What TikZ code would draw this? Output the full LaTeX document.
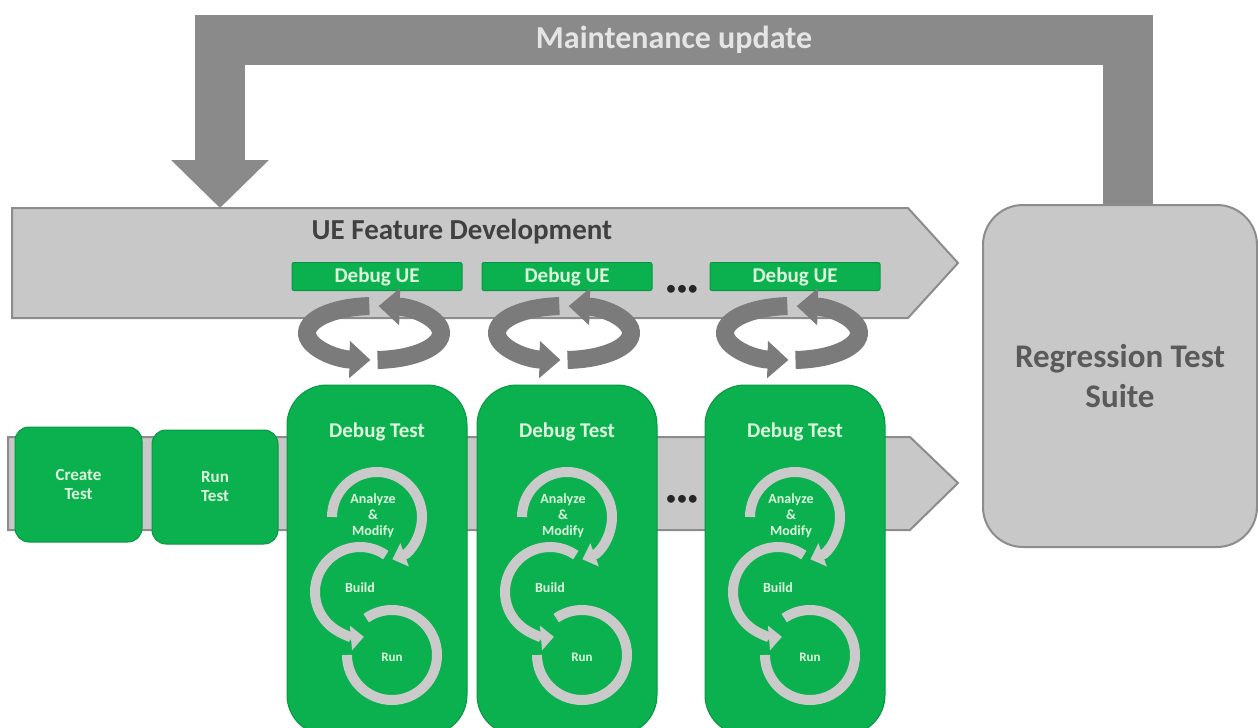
\documentclass[tikz,border=0pt]{standalone}
\usepackage{fontspec}
\setmainfont{Carlito}
\usetikzlibrary{arrows.meta}
\definecolor{msgreen}{HTML}{0BB04F}
\definecolor{paletext}{HTML}{DDF7DD}
\definecolor{bandgray}{HTML}{C8C8C8}
\definecolor{bandedge}{HTML}{8C8C8C}
\definecolor{loopgray}{HTML}{7B7B7B}
\definecolor{cyclegray}{HTML}{CACACA}
\definecolor{feedgray}{HTML}{8A8A8A}
\definecolor{darktext}{HTML}{404040}
\definecolor{suitetext}{HTML}{5A5A5A}

\begin{document}
\begin{tikzpicture}[x=1pt,y=-1pt,
    greenbox/.style={fill=msgreen,draw=msgreen!85!black,line width=1,text=paletext,
      font=\bfseries\fontsize{17}{19}\selectfont,align=center,inner sep=0,rounded corners=14},
    greenlabel/.style={text=paletext,font=\bfseries\fontsize{#1}{16}\selectfont,align=center,inner sep=0},
    band/.style={fill=bandgray,draw=bandedge,line width=2},
    ringarrow/.style={draw=loopgray,line width=18,-{Triangle[length=21,width=36]}},
    cyclearrow/.style={draw=cyclegray,line width=10},
    dots/.style={text=black!85,font=\fontsize{22}{22}\selectfont,inner sep=0}]
    \useasboundingbox (0,0) rectangle (1258,728);
    \clip (0,0) rectangle (1258,728);
    \draw[feedgray,line width=50,line join=miter,-{Triangle[length=48,width=95]}]
      (1128,205) -- (1128,40) -| node[pos=0.25,text=white!90!black,
      font=\bfseries\fontsize{32}{32}\selectfont] (update) {Maintenance update} (220,208);
    \draw[band] (12,208) -- (908,208) -- (958,263) -- (908,318) -- (12,318) -- cycle;
    \coordinate (devin) at (220,208);
    \node[text=darktext,font=\bfseries\fontsize{29}{29}\selectfont] (devlabel) at (462,232) {UE Feature Development};
    \draw[band] (8,437) -- (910,437) -- (958,483) -- (910,530) -- (8,530) -- cycle;
    \node[greenbox,minimum width=127,minimum height=115] (create) at (78.5,484.5) {Create\\Test};
    \node[greenbox,minimum width=126,minimum height=114] (runtest) at (215,487) {Run\\Test};
    \node[dots] (dotsup) at (682,290) {•••};
    \node[dots] (dotsdown) at (682,500) {•••};
    \foreach \c [count=\i] in {377,567,795} {
      \node[greenbox,rounded corners=2,minimum width=170,minimum height=28,
        font=\bfseries\fontsize{21}{21}\selectfont] (debugue\i) at (\c,276.5) {Debug UE};
      \draw[ringarrow] (\c-3,333) ++(266:67 and 27) arc[start angle=266,end angle=93,x radius=67,y radius=27];
      \draw[ringarrow] (\c-3,333) ++(87:67 and 27) arc[start angle=87,end angle=-86,x radius=67,y radius=27];
      \node[greenbox,rounded corners=40,minimum width=180,minimum height=350] (debugtest\i) at (\c,560) {};
      \node[greenlabel=21] (testtitle\i) at (\c,432) {Debug Test};
      \draw[cyclearrow,-{Triangle[length=13,width=24]}] (\c,517) ++(180:45) arc[start angle=180,end angle=430,radius=45];
      \draw[cyclearrow,-{Triangle[length=13,width=24]}] (\c-17,592) ++(305:45) arc[start angle=305,end angle=85,radius=45];
      \draw[cyclearrow] (\c+15,655) ++(180:45) arc[start angle=180,end angle=-125,radius=45];
      \node[greenlabel=14] (analyze\i) at (\c-4,516) {Analyze\\\&\\Modify};
      \node[greenlabel=14] (build\i) at (\c-17,588) {Build};
      \node[greenlabel=13] (runstep\i) at (\c+15,657) {Run};
    }
    \node[fill=bandgray,draw=bandedge,line width=2,rounded corners=40,minimum width=274,minimum height=342,
      text=suitetext,font=\bfseries\fontsize{33}{40}\selectfont,align=center] (suite) at (1120,376) {Regression Test\\Suite};
  \end{tikzpicture}
\end{document}
